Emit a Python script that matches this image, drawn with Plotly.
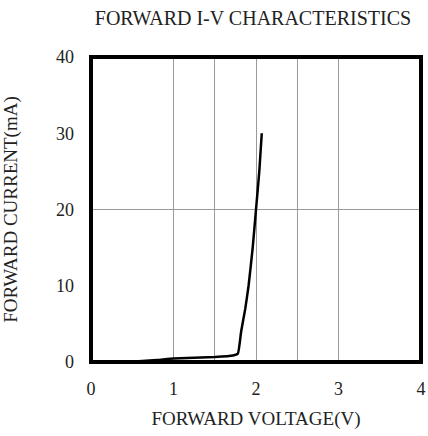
import plotly.graph_objects as go

# Data
voltage = [0.44, 0.8, 1.0, 1.5, 1.72, 1.78, 1.82, 1.87, 1.91, 1.96, 2.0, 2.04, 2.07]
current = [0.0, 0.25, 0.45, 0.65, 0.85, 1.1, 4.0, 7.0, 10.0, 15.0, 20.0, 25.0, 30.0]

x_ticks = [0, 1, 2, 3, 4]
y_ticks = [0, 10, 20, 30, 40]
x_grid = [1, 1.5, 2, 2.5, 3]
y_grid = [20]

title_text = "FORWARD I-V CHARACTERISTICS"
x_title = "FORWARD VOLTAGE(V)"
y_title = "FORWARD CURRENT(mA)"

font_family = "Liberation Serif"
text_color = "#222222"

fig = go.Figure()
fig.add_trace(go.Scatter(
    x=voltage, y=current, mode="lines",
    line=dict(color="black", width=2.5, shape="spline", smoothing=0.4),
    showlegend=False, hoverinfo="skip",
))

fig.update_layout(
    width=428, height=436,
    margin=dict(l=91, r=7, t=57, b=74, pad=0, autoexpand=False),
    paper_bgcolor="white", plot_bgcolor="white",
    font=dict(family=font_family, color=text_color, size=18),
    title=dict(text=title_text, x=0.591, xanchor="center", y=0.9587, yanchor="middle",
               font=dict(family=font_family, size=20, color=text_color)),
    showlegend=False,
)

fig.update_xaxes(
    range=[0, 4], tickvals=x_ticks, ticktext=[str(v) for v in x_ticks],
    showgrid=False, zeroline=False, showline=False, ticks="",
    ticklabelstandoff=14, automargin=False,
    minor=dict(tickvals=x_grid, showgrid=True, gridcolor="#9a9a9a", gridwidth=1, ticks=""),
    title=dict(text=x_title, font=dict(family=font_family, size=19, color=text_color), standoff=13),
    tickfont=dict(family=font_family, size=18, color=text_color),
    fixedrange=True,
)
fig.update_yaxes(
    range=[0, 40], tickvals=y_ticks, ticktext=[str(v) for v in y_ticks],
    showgrid=False, zeroline=False, showline=False, ticks="",
    ticklabelstandoff=16, automargin=False,
    minor=dict(tickvals=y_grid, showgrid=True, gridcolor="#9a9a9a", gridwidth=1, ticks=""),
    title=dict(text=y_title, font=dict(family=font_family, size=19, color=text_color), standoff=40),
    tickfont=dict(family=font_family, size=18, color=text_color),
    fixedrange=True,
)

fig.add_shape(type="rect", xref="paper", yref="paper", x0=0, y0=0, x1=1, y1=1,
              line=dict(color="black", width=4), layer="above")

# remove the default page margin so the 428x436 figure fills the window exactly
fig.write_html(
    "out.html",
    config={"displayModeBar": False},
    post_script="document.body.style.margin='0';document.body.style.overflow='hidden';",
)
